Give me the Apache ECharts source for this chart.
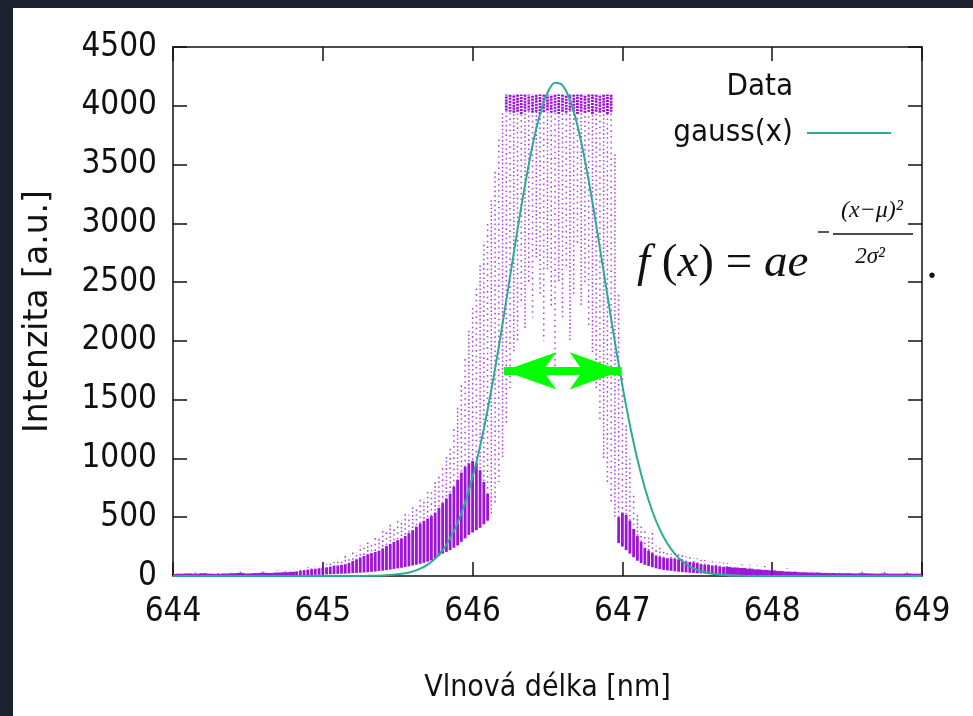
<!DOCTYPE html>
<html>
<head>
<meta charset="utf-8">
<script src="https://cdn.jsdelivr.net/npm/echarts@6/dist/echarts.min.js"></script>
<style>
  html, body { margin: 0; padding: 0; background: #1c2230; width: 973px; height: 716px; overflow: hidden; }
  #chart { position: absolute; left: 13px; top: 8px; width: 960px; height: 708px; }
</style>
</head>
<body>
<div id="chart"></div>
<script>
// ---------- DATA ----------
const xTicks = [644, 645, 646, 647, 648, 649];
const yTicks = [0, 500, 1000, 1500, 2000, 2500, 3000, 3500, 4000, 4500];

// measured spectrum, one column per wavelength: dense band [denseLow, denseHigh], scattered points [scatterLow, scatterHigh]
const wavelength = [
  644.00,644.05,644.10,644.15,644.20,644.25,644.30,644.35,644.40,644.45,644.50,644.55,644.60,644.65,644.70,644.75,
  644.800,644.825,644.850,644.875,644.900,644.925,644.950,644.975,645.000,645.025,645.050,645.075,645.100,645.125,645.150,645.175,
  645.200,645.225,645.250,645.275,645.300,645.325,645.350,645.375,645.400,645.425,645.450,645.475,645.500,645.525,645.550,645.575,
  645.600,645.625,645.650,645.675,645.700,645.725,645.750,645.775,645.800,645.825,645.850,645.875,645.900,645.925,645.950,645.975,
  646.000,646.025,646.050,646.075,646.100,646.125,646.150,646.175,646.200,646.225,646.250,646.275,646.300,646.325,646.350,646.375,
  646.400,646.425,646.450,646.475,646.500,646.525,646.550,646.575,646.600,646.625,646.650,646.675,646.700,646.725,646.750,646.775,
  646.800,646.825,646.850,646.875,646.900,646.925,646.950,646.975,647.000,647.025,647.050,647.075,647.100,647.125,647.150,647.175,
  647.200,647.225,647.250,647.275,647.300,647.325,647.350,647.375,647.400,647.425,647.450,647.475,647.500,647.525,647.550,647.575,
  647.600,647.625,647.650,647.675,647.700,
  647.75,647.80,647.85,647.90,647.95,648.00,648.05,648.10,648.15,648.20,648.25,648.30,648.35,648.40,648.45,648.50,648.55,648.60,
  648.65,648.70,648.75,648.80,648.85,648.90,648.95,649.00
];
const denseLow = [
  0,0,0,0,0,0,0,0,0,0,0,0,0,0,0,0,
  5,5,6,6,8,8,10,10,12,14,15,16,18,19,20,22,
  24,26,28,30,32,35,38,42,46,50,55,60,65,70,76,82,
  90,96,104,112,122,132,150,170,190,205,220,240,260,290,320,350,
  370,390,410,440,470,0,0,0,0,3960,3950,3940,3950,3930,3950,3960,
  3940,3950,3930,3950,3960,3940,3950,3930,3950,3940,3960,3950,3930,3950,3940,3950,
  3930,3950,3940,3950,3930,3950,0,280,250,220,190,160,130,110,95,85,
  75,65,58,52,48,44,40,36,33,30,28,26,24,22,20,19,
  18,17,15,14,12,
  10,8,8,6,5,5,5,4,3,3,2,2,1,1,0,0,0,0,
  0,0,0,0,0,0,0,0
];
const denseHigh = [
  18,20,22,20,24,20,18,22,24,26,22,25,28,26,30,32,
  36,40,45,50,55,58,62,66,70,74,80,85,90,95,100,112,
  128,142,158,170,185,195,205,215,235,255,272,290,305,320,340,365,
  390,420,445,470,490,510,540,580,620,660,700,760,820,880,930,960,
  980,960,900,800,700,0,0,0,0,4095,4095,4095,4095,4095,4095,4095,
  4095,4095,4095,4095,4095,4095,4095,4095,4095,4095,4095,4095,4095,4095,4095,4095,
  4095,4095,4095,4095,4095,4095,0,500,540,520,470,400,340,290,240,215,
  195,175,162,156,152,150,148,142,132,124,120,116,110,102,96,94,
  90,86,82,79,77,
  72,68,62,56,52,48,42,38,35,32,30,28,26,25,24,24,22,24,
  22,20,22,20,20,22,20,20
];
const scatterLow = [
  18,20,22,20,24,20,18,22,24,26,22,25,28,26,30,32,
  36,40,45,50,55,58,62,66,70,74,80,85,90,95,100,112,
  128,142,158,170,185,195,205,215,235,255,272,290,305,320,340,365,
  390,420,445,470,490,510,540,580,620,660,700,760,820,880,930,960,
  980,960,900,800,700,520,620,800,1000,1300,1600,1900,2000,2300,2100,2500,
  2200,2700,2400,2000,2600,2300,1700,2500,2200,2600,2000,2400,2800,2300,2500,2100,
  1900,1600,1300,1000,800,600,500,500,540,520,470,400,340,290,240,215,
  195,175,162,156,152,150,148,142,132,124,120,116,110,102,96,94,
  90,86,82,79,77,
  72,68,62,56,52,48,42,38,35,32,30,28,26,25,24,24,22,24,
  22,20,22,20,20,22,20,20
];
const scatterHigh = [
  28,35,40,30,45,38,26,32,40,42,35,40,45,42,48,55,
  60,55,68,62,75,70,85,80,110,100,130,120,150,140,180,165,
  215,200,260,240,300,280,345,320,400,380,450,420,490,470,540,520,
  600,580,680,650,740,720,800,860,950,1020,1100,1250,1450,1650,1850,2100,
  2300,2480,2650,2850,3000,3200,3450,3750,3950,4095,4095,4095,4095,4095,4095,4095,
  4095,4095,4095,4095,4095,4095,4095,4095,4095,4095,4095,4095,4095,4095,4095,4095,
  4095,4095,4095,4095,4095,4095,3600,2400,1700,1300,1000,700,520,430,380,330,
  365,260,240,215,210,190,200,185,180,165,160,150,150,138,136,128,
  125,118,120,112,110,
  105,100,95,90,85,100,70,65,60,55,50,45,40,40,38,36,35,36,
  34,32,34,30,30,32,30,30
];

// fitted gaussian
const gaussX = [644.00,645.00,645.20,645.30,645.40,645.50,645.55,645.60,645.65,645.70,645.75,645.80,645.85,645.90,645.95,
  646.00,646.05,646.10,646.15,646.20,646.25,646.30,646.35,646.40,646.45,646.50,646.55,646.60,646.65,646.70,646.75,
  646.80,646.85,646.90,646.95,647.00,647.05,647.10,647.15,647.20,647.25,647.30,647.35,647.40,647.45,647.50,647.55,
  647.60,647.70,647.80,648.00,649.00];
const gaussY = [0,0,0.3,1.3,4.5,14,23,38,62,97,148,220,320,452,624,
  840,1103,1412,1763,2146,2547,2948,3327,3662,3929,4111,4195,4174,4050,3832,3535,
  3180,2789,2386,1990,1619,1284,993,749,551,394,276,188,125,81,51,32,
  19,6,2,0.1,0];

// FWHM arrow (green)
const fwhmLeft = 646.21, fwhmRight = 646.995, fwhmLevel = 1745;

// ---------- CHART ----------
const purple = '#9400d3';
const teal = '#2aab92';
const narrow = "'DejaVu Sans Condensed', 'Liberation Sans Narrow', 'DejaVu Sans', sans-serif";
const serif = "'Liberation Serif', 'DejaVu Serif', serif";

const dataRows = wavelength.map((w, i) => [w, denseLow[i], denseHigh[i], scatterLow[i], scatterHigh[i]]);
const gaussRows = gaussX.map((w, i) => [w, gaussY[i]]);

const chart = echarts.init(document.getElementById('chart'), null, { renderer: 'canvas' });

const axisCommon = {
  axisLine: { show: true, onZero: false, lineStyle: { color: '#111', width: 1.5 } },
  axisTick: { show: true, inside: true, length: 14, lineStyle: { color: '#111', width: 1.5 } },
  splitLine: { show: false }
};

chart.setOption({
  backgroundColor: '#ffffff',
  animation: false,
  grid: { left: 160, right: 51, top: 39, bottom: 140, containLabel: false },
  legend: {
    right: 77, top: 55, orient: 'vertical', align: 'right',
    itemWidth: 84, itemHeight: 2, itemGap: 8,
    textStyle: { fontFamily: narrow, fontSize: 31, color: '#111', lineHeight: 38, padding: [0, 9, 0, 0] },
    data: [
      { name: 'Data', icon: 'none' },
      { name: 'gauss(x)', icon: 'rect', itemStyle: { color: teal } }
    ],
    selectedMode: false
  },
  xAxis: [
    Object.assign({
      type: 'value', min: 644, max: 649, interval: 1, position: 'bottom',
      name: 'Vlnová délka [nm]', nameLocation: 'middle', nameGap: 97,
      nameTextStyle: { fontFamily: narrow, fontSize: 30, color: '#111' },
      axisLabel: { margin: 20, fontFamily: narrow, fontSize: 33, color: '#111',
        formatter: v => xTicks.includes(v) ? String(v) : '' }
    }, axisCommon),
    Object.assign({
      type: 'value', min: 644, max: 649, interval: 1, position: 'top',
      axisLabel: { show: false }
    }, axisCommon)
  ],
  yAxis: [
    Object.assign({
      type: 'value', min: 0, max: 4500, interval: 500, position: 'left',
      name: 'Intenzita [a.u.]', nameLocation: 'middle', nameGap: 118, nameRotate: 90,
      nameTextStyle: { fontFamily: "'DejaVu Sans', sans-serif", fontSize: 33, color: '#111' },
      axisLabel: { margin: 16, fontFamily: narrow, fontSize: 33, color: '#111',
        formatter: v => yTicks.includes(v) ? String(v) : '' }
    }, axisCommon),
    Object.assign({
      type: 'value', min: 0, max: 4500, interval: 500, position: 'right',
      axisLabel: { show: false }
    }, axisCommon)
  ],
  series: [
    {
      name: 'Data',
      type: 'custom',
      xAxisIndex: 0, yAxisIndex: 0,
      clip: true,
      data: dataRows,
      encode: { x: 0, y: [1, 2, 3, 4] },
      itemStyle: { color: purple },
      renderItem: function (params, api) {
        const i = params.dataIndex;
        const w = api.value(0);
        const prev = i > 0 ? wavelength[i - 1] : w - (wavelength[i + 1] - w);
        const next = i < wavelength.length - 1 ? wavelength[i + 1] : w + (w - wavelength[i - 1]);
        const left = api.coord([(prev + w) / 2, 0])[0];
        const right = api.coord([(w + next) / 2, 0])[0];
        const colW = right - left;
        const cx = api.coord([w, 0])[0];
        const sLo = api.value(1), sHi = api.value(2), dLo = api.value(3), dHi = api.value(4);
        const children = [];
        if (dHi > dLo) {
          children.push({
            type: 'line',
            shape: { x1: cx, y1: api.coord([w, dLo])[1], x2: cx, y2: api.coord([w, dHi])[1] },
            style: { stroke: purple, lineWidth: 1.5, lineDash: [1.6, 2.2 + (i % 3) * 0.9],
                     lineDashOffset: (i * 1.7) % 5, opacity: 0.75 }
          });
        }
        if (sHi > sLo) {
          const yT = api.coord([w, sHi])[1], yB = api.coord([w, sLo])[1];
          if (colW > 5) {
            children.push({
              type: 'rect',
              shape: { x: left, y: yT, width: colW + 0.3, height: Math.max(yB - yT, 1.5) },
              style: { fill: purple, opacity: 0.9 }
            });
          } else {
            children.push({
              type: 'line',
              shape: { x1: cx, y1: yB, x2: cx, y2: yT },
              style: { stroke: purple, lineWidth: colW * 0.75, opacity: 0.92,
                       lineDash: sLo > 3000 ? [2, 1] : null }
            });
          }
        }
        return { type: 'group', children: children };
      },
      z: 2
    },
    {
      name: 'gauss(x)',
      type: 'line',
      xAxisIndex: 0, yAxisIndex: 0,
      data: gaussRows,
      showSymbol: false,
      smooth: 0.3,
      lineStyle: { color: teal, width: 2 },
      itemStyle: { color: teal },
      z: 3,
      markLine: {
        silent: true,
        symbol: ['arrow', 'arrow'],
        symbolSize: [28, 52],
        label: { show: false },
        lineStyle: { color: '#00ff00', width: 8, type: 'solid', opacity: 1 },
        itemStyle: { color: '#00ff00' },
        data: [[ { coord: [fwhmLeft, fwhmLevel] }, { coord: [fwhmRight, fwhmLevel] } ]],
        z: 5
      }
    }
  ],
  graphic: [
    {
      type: 'text', left: 624, top: 232,
      style: {
        text: '{i|f}{u| (}{i|x}{u|) = }{i|ae}',
        rich: {
          i: { fontFamily: serif, fontStyle: 'italic', fontSize: 47, fill: '#111' },
          u: { fontFamily: serif, fontSize: 47, fill: '#111' }
        }
      }
    },
    { type: 'line', shape: { x1: 805, y1: 224, x2: 816, y2: 224 }, style: { stroke: '#111', lineWidth: 1.4 } },
    { type: 'line', shape: { x1: 820, y1: 226, x2: 900, y2: 226 }, style: { stroke: '#111', lineWidth: 1.6 } },
    { type: 'text', x: 859, y: 203, style: { text: '(x−μ)²', font: "italic 24px 'Liberation Serif', serif", fill: '#111', align: 'center', verticalAlign: 'middle' } },
    { type: 'text', x: 857, y: 249, style: { text: '2σ²', font: "italic 23px 'Liberation Serif', serif", fill: '#111', align: 'center', verticalAlign: 'middle' } },
    { type: 'text', x: 919, y: 258, style: { text: '.', font: "46px 'Liberation Serif', serif", fill: '#111', align: 'center', verticalAlign: 'middle' } }
  ]
});
</script>
</body>
</html>
